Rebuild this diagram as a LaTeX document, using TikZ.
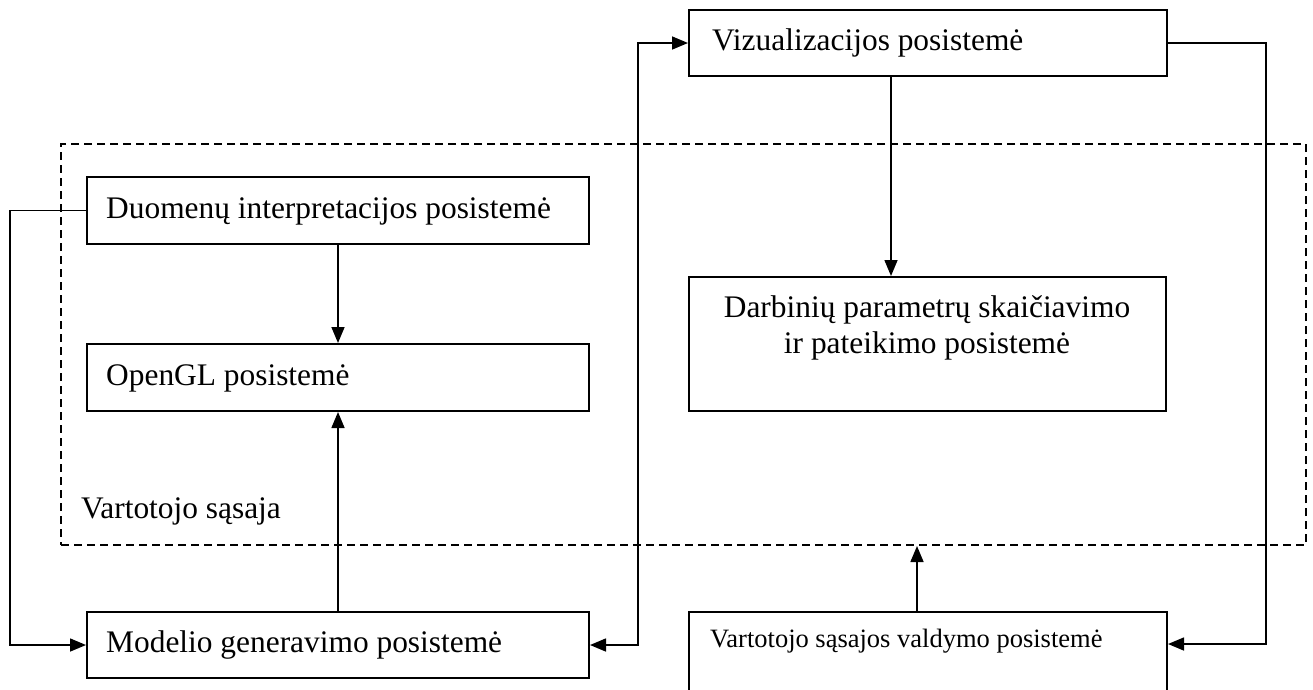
\documentclass[tikz,border=0pt]{standalone}
\usepackage{fontspec}
\setmainfont{Liberation Serif}
\usetikzlibrary{arrows.meta}
\begin{document}
\begin{tikzpicture}[x=1pt,y=-1pt,
  box/.style={draw, line width=2pt, inner sep=0pt, anchor=north west},
  uibox/.style={draw, line width=2pt, dash pattern=on 8pt off 5pt, inner sep=0pt, anchor=north west},
  conn/.style={line width=1.6pt},
  tip/.style={-{Triangle[length=16pt,width=13pt]}},
  dtip/.style={{Triangle[length=16pt,width=13pt]}-{Triangle[length=16pt,width=13pt]}},
  lbl/.style={inner sep=0pt, anchor=base west, font=\fontsize{31.4}{36}\selectfont},
  clbl/.style={inner sep=0pt, anchor=base, font=\fontsize{31.4}{36}\selectfont},
  slbl/.style={inner sep=0pt, anchor=base west, font=\fontsize{26.5}{30}\selectfont}]
\useasboundingbox (0,0) rectangle (1313,689);
\clip (0,0) rectangle (1313,689);

% dashed user-interface frame
\node[uibox, minimum width=1245pt, minimum height=401pt] (ui) at (60,143) {};
\node[lbl] (uiT) at (81,518) {Vartotojo sąsaja};

% boxes
\node[box, minimum width=478pt, minimum height=66pt] (viz) at (688,9) {};
\node[box, minimum width=502pt, minimum height=67pt] (duom) at (86,176) {};
\node[box, minimum width=502pt, minimum height=67pt] (open) at (86,343) {};
\node[box, minimum width=502pt, minimum height=66pt] (mod) at (86,611) {};
\node[box, minimum width=477pt, minimum height=134pt] (darb) at (688,276) {};
\node[box, minimum width=478pt, minimum height=140pt] (vald) at (688,611) {};

% texts
\node[lbl] (vizT) at (712,50) {Vizualizacijos posistemė};
\node[lbl] (duomT) at (106,218) {Duomenų interpretacijos posistemė};
\node[lbl] (openT) at (106,385) {OpenGL posistemė};
\node[lbl] (modT) at (106,652) {Modelio generavimo posistemė};
\node[clbl] (darbA) at (927,317) {Darbinių parametrų skaičiavimo};
\node[clbl] (darbB) at (927,353) {ir pateikimo posistemė};
\node[slbl] (valdT) at (710,647) {Vartotojo sąsajos valdymo posistemė};

% helper coordinates
\coordinate (L) at (10,0);
\coordinate (M) at (638,0);
\coordinate (R) at (1266,0);
\coordinate (valdIn) at ([yshift=-33pt]vald.north east);
\coordinate (vizDown) at ([xshift=-37pt]viz.south);
\coordinate (valdUp) at ([xshift=-11pt]vald.north);

% connectors
\draw[conn,tip] (duom.west) -- (duom.west -| L) -- (mod.west -| L) -- (mod.west);
\draw[conn,tip] (duom.south) -- (open.north);
\draw[conn,tip] (mod.north) -- (open.south);
\draw[conn,dtip] (mod.east) -- (mod.east -| M) -- (viz.west -| M) -- (viz.west);
\draw[conn,tip] (vizDown) -- (vizDown |- darb.north);
\draw[conn,tip] (viz.east) -- (viz.east -| R) -- (valdIn -| R) -- (valdIn);
\draw[conn,tip] (valdUp) -- (valdUp |- ui.south);
\end{tikzpicture}
\end{document}
